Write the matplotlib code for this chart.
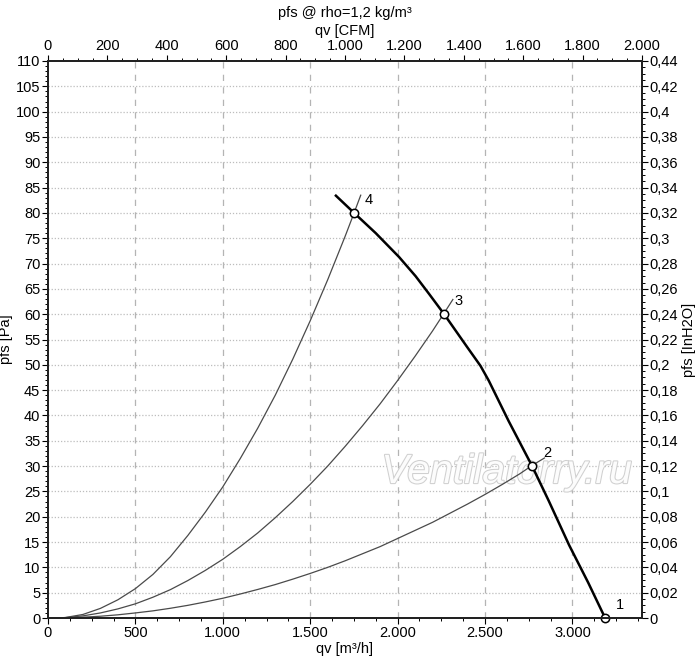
import numpy as np
import matplotlib
matplotlib.use("Agg")
import matplotlib.pyplot as plt
from matplotlib.ticker import MultipleLocator, FuncFormatter
import matplotlib.patheffects as pe

plt.rcParams['font.family'] = ['Liberation Sans', 'DejaVu Sans']

# curva del ventilador (qv m3/h, pfs Pa)
q_fan = [1647, 1751, 1875, 2008, 2103, 2180, 2264, 2331, 2400, 2474, 2521, 2635, 2768, 2865, 2981, 3090, 3187]
p_fan = [83.4, 80.0, 76.0, 71.3, 67.5, 64.0, 60.1, 56.8, 53.4, 49.8, 46.9, 38.9, 30.1, 23.1, 14.4, 7.0, 0.0]

# curvas de sistema
q_s1 = [0, 3250]
p_s1 = [0, 0]
q_s2 = [60, 200, 300, 400, 500, 600, 700, 800, 900, 1000, 1100, 1200, 1300, 1400, 1500, 1600,
        1700, 1800, 1900, 2000, 2100, 2200, 2300, 2400, 2500, 2600, 2700, 2768, 2840]
p_s2 = [0, 0.16, 0.35, 0.63, 1.0, 1.41, 1.92, 2.5, 3.17, 3.9, 4.74, 5.64, 6.6, 7.67, 8.8, 10.0,
        11.3, 12.7, 14.1, 15.7, 17.3, 18.9, 20.7, 22.5, 24.4, 26.4, 28.5, 30.1, 31.6]
q_s3 = [60, 100, 200, 300, 400, 500, 600, 700, 800, 900, 1000, 1100, 1200, 1300, 1400, 1500,
        1600, 1700, 1800, 1900, 2000, 2100, 2200, 2264, 2316]
p_s3 = [0, 0.08, 0.42, 1.0, 1.8, 2.8, 4.1, 5.6, 7.4, 9.4, 11.6, 14.1, 16.8, 19.8, 23.0, 26.4,
        30.0, 33.9, 38.0, 42.3, 46.9, 51.7, 56.7, 60.1, 62.9]
q_s4 = [60, 100, 200, 300, 400, 500, 600, 700, 800, 900, 1000, 1100, 1200, 1300, 1400, 1500,
        1600, 1700, 1751, 1789]
p_s4 = [0, 0.1, 0.7, 1.9, 3.6, 5.8, 8.6, 12.1, 16.3, 20.9, 25.9, 31.5, 37.5, 44.0, 51.1, 58.7,
        66.8, 75.4, 80.0, 83.5]

# puntos de trabajo
op_q = [3187, 2768, 2264, 1751]
op_p = [0.0, 30.1, 60.1, 80.0]
op_lab = ["1", "2", "3", "4"]

CFM = 1.699  # m3/h por CFM

fig = plt.figure(figsize=(7, 6.68), dpi=100)
ax = fig.add_axes([48 / 700, 50 / 668, 594 / 700, 557 / 668])

ax.set_xlim(0, 2000 * CFM)
ax.set_ylim(0, 110)

# grilla
for v in range(500, 3001, 500):
    ax.axvline(v, color="#b4b4b4", lw=0.9, ls=(0, (5, 5)), zorder=0)
for v in range(5, 110, 5):
    ax.axhline(v, color="#bdbdbd", lw=0.9, ls=(0, (1, 1.5)), zorder=0)

# marca de agua
ax.text(0.772, 0.262, "Ventilatorry.ru", transform=ax.transAxes, ha="center", va="center",
        fontsize=29.5, family="Liberation Sans", style="italic", color="#fcfcfc", zorder=1,
        path_effects=[pe.withStroke(linewidth=1.5, foreground="#d0d0d0")])

gris = "#4a4a4a"
for qs, ps in [(q_s1, p_s1), (q_s2, p_s2), (q_s3, p_s3), (q_s4, p_s4)]:
    ax.plot(qs, ps, color=gris, lw=0.9, zorder=2)

ax.plot(q_fan, p_fan, color="black", lw=1.8, zorder=3)
ax.plot(op_q, op_p, "o", ms=6, mfc="white", mec="black", mew=1.1, zorder=4, clip_on=False)
for q, p, t in zip(op_q, op_p, op_lab):
    ax.annotate(t, (q, p), xytext=(15, 13), textcoords="offset pixels",
                ha="center", va="center", fontsize=10.5, zorder=5)

# ejes
def miles(x, pos):
    return "{:,.0f}".format(x).replace(",", ".")

ax.xaxis.set_major_locator(MultipleLocator(500))
ax.xaxis.set_minor_locator(MultipleLocator(125))
ax.xaxis.set_major_formatter(FuncFormatter(miles))
ax.yaxis.set_major_locator(MultipleLocator(5))
ax.yaxis.set_minor_locator(MultipleLocator(1))
ax.tick_params(which="major", length=4, width=0.8, labelsize=10.5, pad=1.5)
ax.tick_params(which="minor", length=2, width=0.7)
ax.set_xlabel("qv [m³/h]", fontsize=10.5, labelpad=2)
ax.set_ylabel("pfs [Pa]", fontsize=10.5, labelpad=2)

axt = ax.twiny()
axt.set_xlim(0, 2000)
axt.xaxis.set_major_locator(MultipleLocator(200))
axt.xaxis.set_minor_locator(MultipleLocator(50))
axt.xaxis.set_major_formatter(FuncFormatter(miles))
axt.tick_params(which="major", length=4, width=0.8, labelsize=10.5, pad=1.5)
axt.tick_params(which="minor", length=2, width=0.7)
axt.set_xlabel("qv [CFM]", fontsize=10.5, labelpad=3)

axr = ax.twinx()
axr.set_ylim(0, 0.44)
axr.yaxis.set_major_locator(MultipleLocator(0.02))
axr.yaxis.set_minor_locator(MultipleLocator(0.005))
axr.yaxis.set_major_formatter(FuncFormatter(lambda v, pos: ("%.2f" % v).rstrip("0").rstrip(".").replace(".", ",")))
axr.tick_params(which="major", length=4, width=0.8, labelsize=10.5, pad=1.5)
axr.tick_params(which="minor", length=2, width=0.7)
axr.set_ylabel("pfs [InH2O]", fontsize=10.5, labelpad=3)

for a in (ax, axt, axr):
    for s in a.spines.values():
        s.set_linewidth(1.3)
        s.set_color("#222222")

fig.text(345 / 700, 1 - 13 / 668, "pfs @ rho=1,2 kg/m³", ha="center", va="center", fontsize=10.5)

fig.savefig("out.png", dpi=100)
